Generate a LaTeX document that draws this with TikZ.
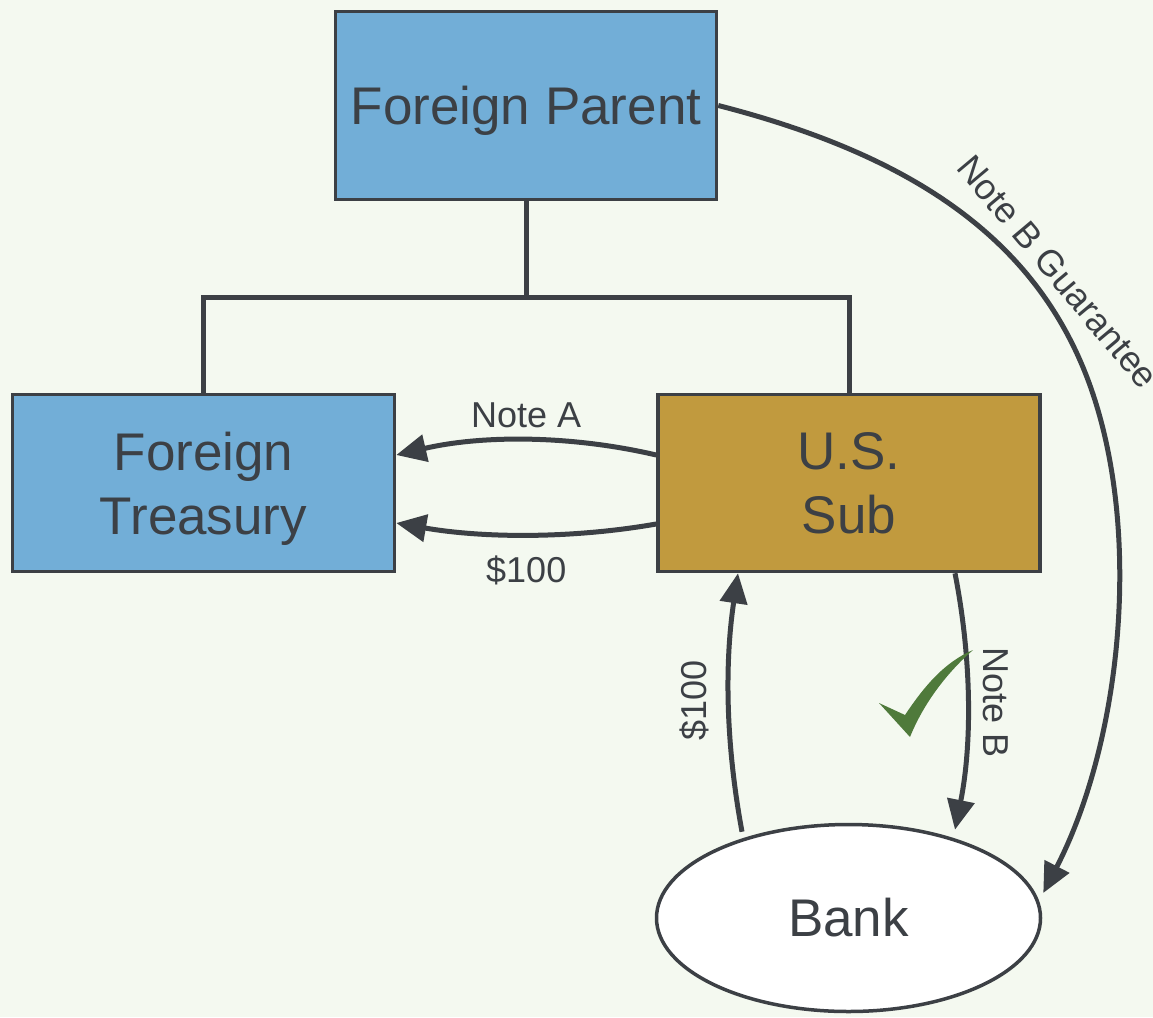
\documentclass[tikz,border=0pt]{standalone}
\usepackage{fontspec}
\setmainfont{Liberation Sans}
\usetikzlibrary{arrows.meta,calc,shapes.geometric}

\definecolor{bgcol}{HTML}{F4F9F0}
\definecolor{inkcol}{HTML}{3C4045}
\definecolor{bluebox}{HTML}{72AED7}
\definecolor{goldbox}{HTML}{C19A3E}
\definecolor{checkcol}{HTML}{4F7A3B}

\tikzset{
  entity/.style={draw=inkcol, line width=3.5pt, text=inkcol, inner sep=0pt,
    align=center, font=\fontsize{53}{64}\selectfont},
  bluebx/.style={entity, rectangle, fill=bluebox, text depth=0pt},
  goldbx/.style={entity, rectangle, fill=goldbox, text depth=0pt},
  ovalbx/.style={entity, ellipse, fill=white},
  tree/.style={draw=inkcol, line width=5pt},
  flow/.style={draw=inkcol, line width=5pt,
    -{Triangle[length=30pt,width=27pt]}},
  flowlabel/.style={text=inkcol, inner sep=2pt, font=\fontsize{36}{43}\selectfont}
}

\begin{document}
\begin{tikzpicture}[x=1pt,y=-1pt]
  % canvas
  \fill[bgcol] (0,0) rectangle (1153,1017);
  \useasboundingbox (0,0) rectangle (1153,1017);

  % entities
  \node[bluebx, minimum width=381pt, minimum height=188pt] (parent) at (526,105.5) {Foreign Parent};
  \node[bluebx, minimum width=382pt, minimum height=177pt] (treasury) at (203.5,483) {Foreign\\Treasury};
  \node[goldbx, minimum width=382pt, minimum height=177pt] (sub) at (849,483) {U.S.\\Sub};
  \node[ovalbx, minimum width=384pt, minimum height=187pt] (bank) at (848.5,918) {Bank};

  % ownership tree
  \coordinate (junction) at ($(parent.south)+(0,96)$);
  \draw[tree] (parent.south) -- (junction);
  \draw[tree] (treasury.north) |- (junction) -| (sub.north);

  % intercompany flows
  \draw[flow] ($(sub.west)+(0,-28)$) .. controls +(-86,-20) and +(86,-20) .. ($(treasury.east)+(0,-28)$)
    node[flowlabel, midway, anchor=base, yshift=13pt] {Note A};
  \draw[flow] ($(sub.west)+(0,41)$) .. controls +(-86,15) and +(86,15) .. ($(treasury.east)+(0,40)$)
    node[flowlabel, midway, anchor=base, yshift=-48pt] {\$100};

  % bank flows
  \draw[flow] ($(bank.north)+(-106.5,9)$) .. controls +(-17,-92) and +(-13,87) .. ($(sub.south)+(-111,0)$)
    node[flowlabel, midway, xshift=-34pt, rotate=90] {\$100};
  \draw[flow] ($(sub.south)+(106,0)$) .. controls +(17,87) and +(17,-85) .. ($(bank.north)+(106.5,7)$)
    node[flowlabel, midway, xshift=28pt, rotate=-90] {Note B};

  % guarantee from the parent
  \coordinate (gbend) at (1088,380);
  \draw[flow] (parent.east) .. controls +(195,50) and +(-53,-141) .. (gbend)
    node[flowlabel, pos=0.78, xshift=15pt, yshift=23pt, rotate=-50] {Note B Guarantee}
    .. controls +(56,150) and +(78,-151) .. ($(bank.east)+(1,-25)$);

  % check mark
  \fill[checkcol] (879,703) -- (905,715) .. controls (925,685) and (945,662) .. (973,650)
    .. controls (950,670) and (925,700) .. (910,737) -- cycle;
\end{tikzpicture}
\end{document}
